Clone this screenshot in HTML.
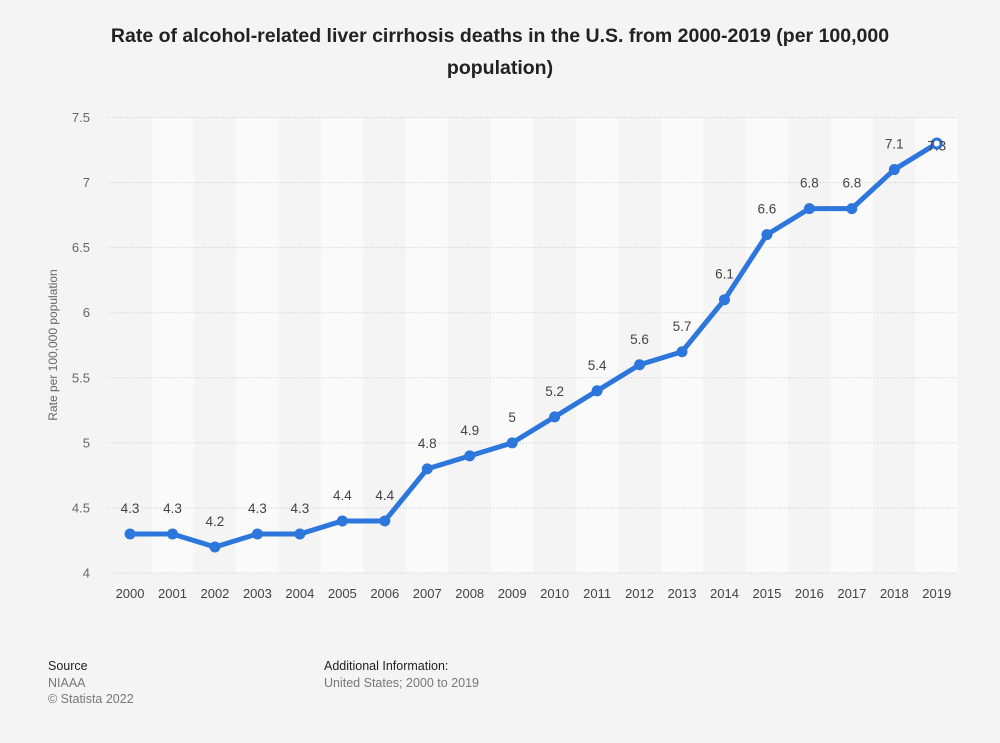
<!DOCTYPE html>
<html><head><meta charset="utf-8">
<style>
html,body{margin:0;padding:0;background:#f4f4f4;}
body{width:1000px;height:743px;position:relative;font-family:"Liberation Sans",Arial,sans-serif;overflow:hidden;}
#title{position:absolute;left:60px;top:20px;width:880px;text-align:center;font-size:19.5px;font-weight:bold;color:#222;line-height:32px;}
.foot{position:absolute;font-size:12.5px;line-height:16px;}
</style></head><body>
<div id="title">Rate of alcohol-related liver cirrhosis deaths in the U.S. from 2000-2019 (per 100,000 population)</div>
<svg id="chart" width="1000" height="743" style="position:absolute;left:0;top:0"></svg>
<div class="foot" style="left:48px;top:658px;color:#222">Source</div>
<div class="foot" style="left:48px;top:675px;color:#777">NIAAA</div>
<div class="foot" style="left:48px;top:691px;color:#777">© Statista 2022</div>
<div class="foot" style="left:324px;top:658px;color:#222">Additional Information:</div>
<div class="foot" style="left:324px;top:675px;color:#777">United States; 2000 to 2019</div>
<script>
const years=["2000","2001","2002","2003","2004","2005","2006","2007","2008","2009","2010","2011","2012","2013","2014","2015","2016","2017","2018","2019"];
const rates=[4.3,4.3,4.2,4.3,4.3,4.4,4.4,4.8,4.9,5,5.2,5.4,5.6,5.7,6.1,6.6,6.8,6.8,7.1,7.3];
const yTicks=[4,4.5,5,5.5,6,6.5,7,7.5];
const yTickLabels=["4","4.5","5","5.5","6","6.5","7","7.5"];
const NS="http://www.w3.org/2000/svg";
const svg=document.getElementById('chart');
const left=108.8,right=958,yMin=4,yMax=7.5,yTop=117.5,yBot=573;
const step=(right-left)/years.length;
function xs(i){return left+step*(i+0.5);}
function ys(v){return yBot-(v-yMin)/(yMax-yMin)*(yBot-yTop);}
function mk(t,a){const e=document.createElementNS(NS,t);for(const k in a)e.setAttribute(k,a[k]);svg.appendChild(e);return e;}
years.forEach((y,i)=>{if(i%2===1){const r=mk('rect',{x:xs(i)-step/2,y:yTop,width:step,height:yBot-yTop,fill:'#fafafa'});

}});
yTicks.forEach((v,i)=>{const l=mk('line',{x1:left,x2:right,y1:ys(v),y2:ys(v),stroke:'#c8c8c8','stroke-dasharray':'1,2','stroke-width':1});


const t=mk('text',{x:90,y:ys(v)+4.5,'text-anchor':'end','font-size':13,fill:'#666'});t.textContent=yTickLabels[i];

});
const yt=mk('text',{x:0,y:0,transform:'translate(57,345) rotate(-90)','text-anchor':'middle','font-size':12,fill:'#666'});
yt.textContent='Rate per 100,000 population';


years.forEach((y,i)=>{const t=mk('text',{x:xs(i),y:598,'text-anchor':'middle','font-size':13,fill:'#444'});t.textContent=y;

});
const pl=mk('polyline',{points:rates.map((v,i)=>xs(i)+','+ys(v)).join(' '),fill:'none',stroke:'#2d76dc','stroke-width':5,'stroke-linejoin':'round','stroke-linecap':'round'});


rates.forEach((v,i)=>{const last=i===rates.length-1;
const c=mk('circle',{cx:xs(i),cy:ys(v),r:last?4.5:5.5,fill:last?'#ffffff':'#2d76dc',stroke:'#2d76dc','stroke-width':last?3:0});


const t=mk('text',{x:xs(i),y:ys(v)-(last?-7:21),'text-anchor':'middle','font-size':13.5,fill:'#444'});t.textContent=String(v);

});
</script>
</body></html>
